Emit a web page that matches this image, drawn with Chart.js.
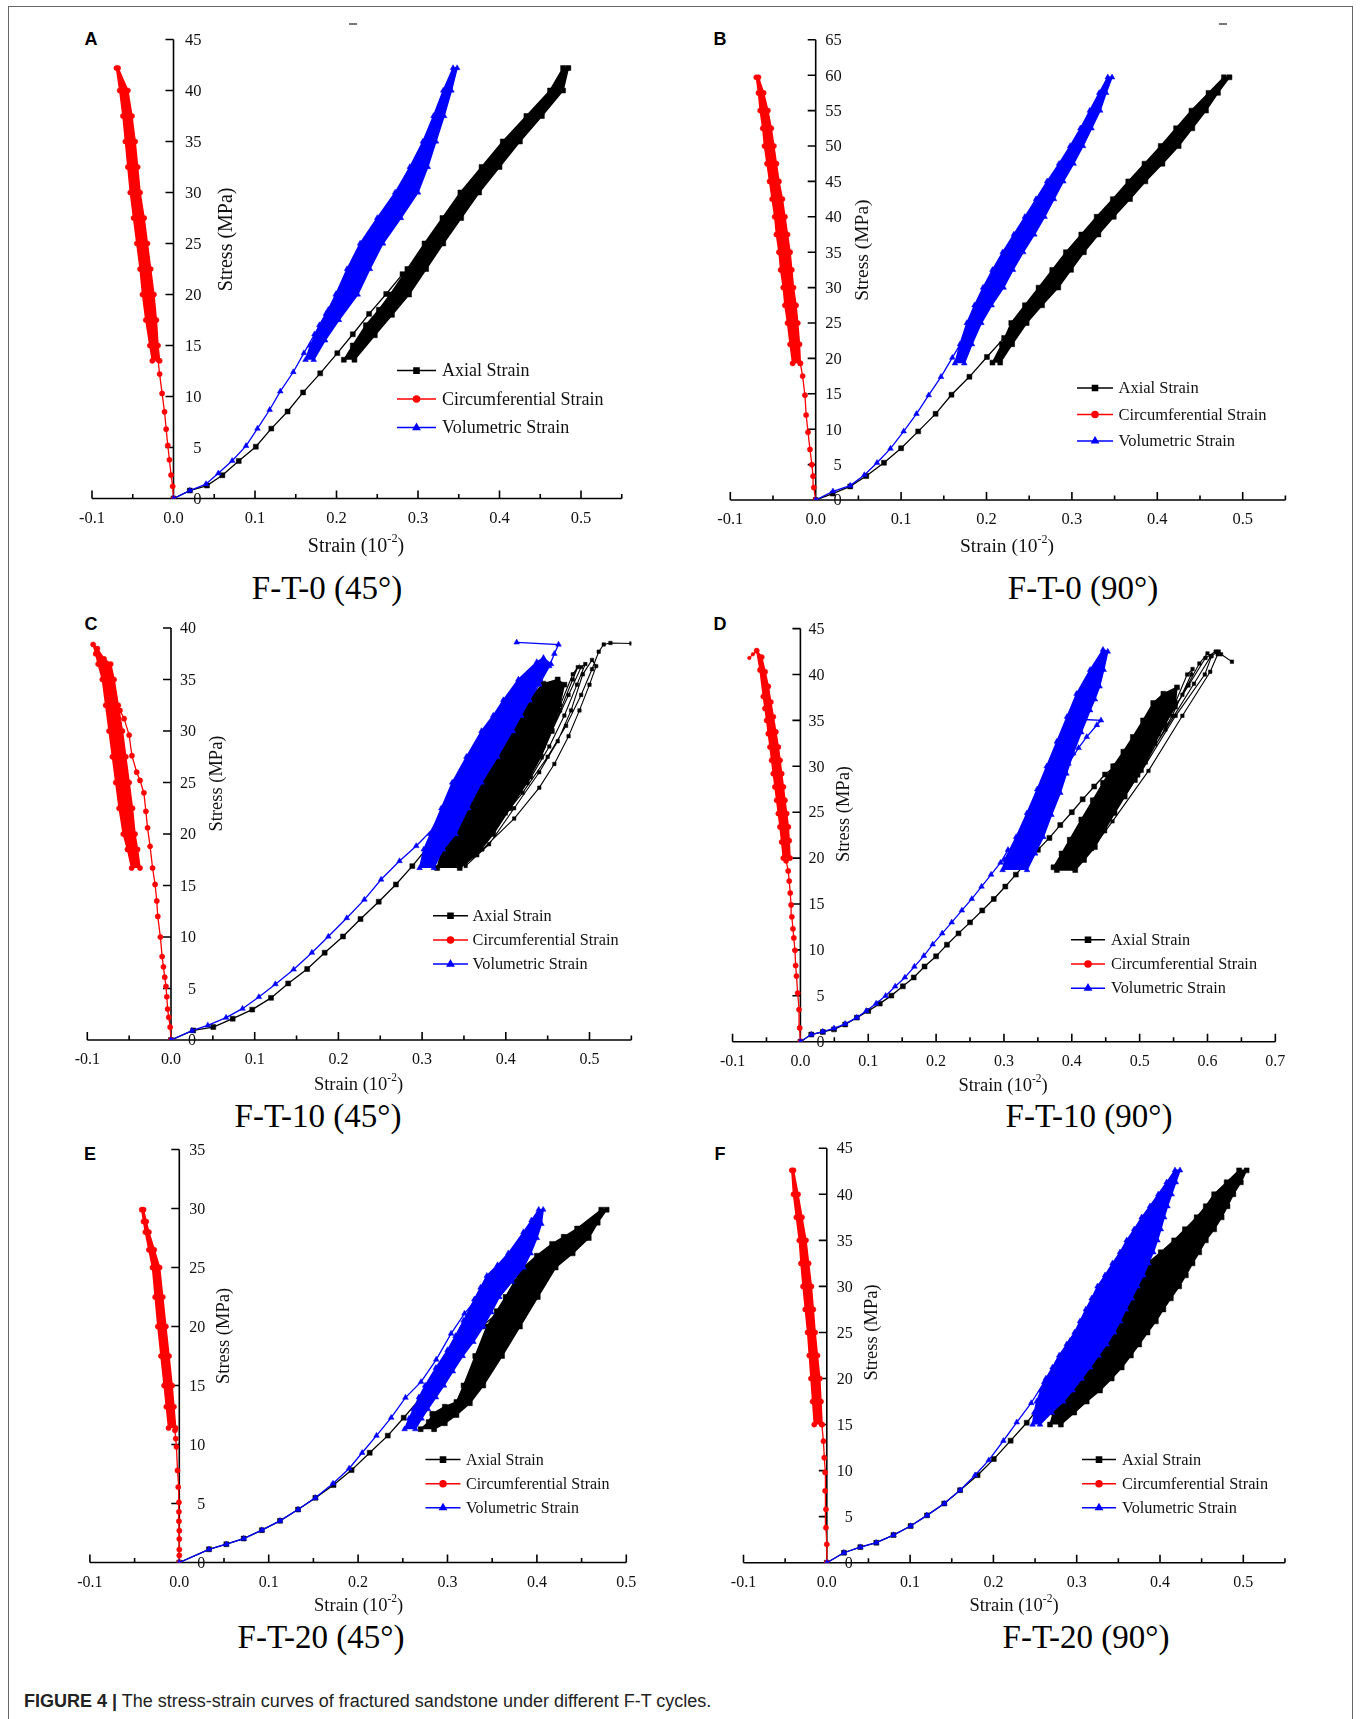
<!DOCTYPE html>
<html lang="en">
<head>
<meta charset="UTF-8">
<title>Stress-strain curves of fractured sandstone</title>
<script src="https://cdn.jsdelivr.net/npm/chart.js"></script>
<style>
  body { margin: 0; width: 1363px; height: 1719px; background: #fff; position: relative; overflow: hidden; }
  .frame { position: absolute; left: 8px; top: 6px; width: 1345px; height: 1780px; border: 1.5px solid #666; box-sizing: border-box; }
  canvas { position: absolute; }
  .letter { position: absolute; font: bold 18px "Liberation Sans", Arial, sans-serif; transform: translate(-50%, -50%); }
  .ptitle { position: absolute; font: 33px "Liberation Serif", "Times New Roman", serif; transform: translate(-50%, -50%); white-space: nowrap; }
  .dash { position: absolute; width: 8px; height: 2px; background: #777; }
  .caption { position: absolute; left: 24px; top: 1691px; font: 18px "Liberation Sans", Arial, sans-serif; color: #222; white-space: nowrap; }
</style>
</head>
<body>
<div class="frame"></div>
<div class="dash" style="left:349px; top:23px"></div>
<div class="dash" style="left:1219px; top:23px"></div>

<div class="letter" style="left:91px; top:39px">A</div>
<div class="letter" style="left:720px; top:39px">B</div>
<div class="letter" style="left:91px; top:624px">C</div>
<div class="letter" style="left:720px; top:624px">D</div>
<div class="letter" style="left:90px; top:1154px">E</div>
<div class="letter" style="left:720px; top:1154px">F</div>

<div class="ptitle" style="left:327px; top:588px">F-T-0 (45°)</div>
<div class="ptitle" style="left:1083px; top:588px">F-T-0 (90°)</div>
<div class="ptitle" style="left:318px; top:1116px">F-T-10 (45°)</div>
<div class="ptitle" style="left:1089px; top:1116px">F-T-10 (90°)</div>
<div class="ptitle" style="left:321px; top:1637px">F-T-20 (45°)</div>
<div class="ptitle" style="left:1086px; top:1637px">F-T-20 (90°)</div>

<div class="caption"><b>FIGURE 4 |</b> The stress-strain curves of fractured sandstone under different F-T cycles.</div>

<canvas id="cA"></canvas>
<canvas id="cB"></canvas>
<canvas id="cC"></canvas>
<canvas id="cD"></canvas>
<canvas id="cE"></canvas>
<canvas id="cF"></canvas>

<script>
// tick values and labels
const xTicks5 = [-0.1, 0, 0.1, 0.2, 0.3, 0.4, 0.5];
const xLabels5 = ['-0.1', '0.0', '0.1', '0.2', '0.3', '0.4', '0.5'];
const xTicks7 = [-0.1, 0, 0.1, 0.2, 0.3, 0.4, 0.5, 0.6, 0.7];
const xLabels7 = ['-0.1', '0.0', '0.1', '0.2', '0.3', '0.4', '0.5', '0.6', '0.7'];
const yTicks35 = [0, 5, 10, 15, 20, 25, 30, 35];
const yTicks40 = [0, 5, 10, 15, 20, 25, 30, 35, 40];
const yTicks45 = [0, 5, 10, 15, 20, 25, 30, 35, 40, 45];
const yTicks65 = [0, 5, 10, 15, 20, 25, 30, 35, 40, 45, 50, 55, 60, 65];
const legendLabels = ['Axial Strain', 'Circumferential Strain', 'Volumetric Strain'];

// ---- A: F-T-0 (45°)  [strain (10^-2), stress MPa]
const aAxialRamp = [[0,0],[0.02,0.78],[0.041,1.27],[0.060,2.28],[0.080,3.67],[0.101,5.08],[0.120,6.85],[0.140,8.53],[0.159,10.4],[0.180,12.27],[0.201,14.25],[0.220,16.1],[0.240,18.1],[0.261,20.05],[0.281,22.0]];
const aAxialBand = [[0.209,13.6],[0.220,15],[0.236,17],[0.252,18.5],[0.266,20],[0.287,22.5],[0.308,25],[0.330,27.5],[0.352,30],[0.378,32.5],[0.404,35],[0.433,37.5],[0.462,40],[0.478,42.2],[0.4845,42.2],[0.478,40],[0.452,37.5],[0.425,35],[0.400,32.5],[0.375,30],[0.353,27.5],[0.331,25],[0.310,22.5],[0.289,20],[0.268,18],[0.247,16],[0.222,13.6]];
const aCircRamp = [[0,0],[-0.001,1.2],[-0.003,2.3],[-0.005,3.8],[-0.007,5.2],[-0.009,6.8],[-0.011,8.5],[-0.014,10.3],[-0.017,12.2],[-0.019,13.6]];
const aCircBand = [[-0.026,13.5],[-0.029,15],[-0.034,17.5],[-0.038,20],[-0.041,22.5],[-0.045,25],[-0.049,27.5],[-0.053,30],[-0.056,32.5],[-0.059,35],[-0.062,37.5],[-0.066,40],[-0.070,42.2],[-0.068,42.2],[-0.056,40],[-0.051,37.5],[-0.047,35],[-0.044,32.5],[-0.041,30],[-0.036,27.5],[-0.032,25],[-0.028,22.5],[-0.024,20],[-0.021,17.5],[-0.019,15],[-0.017,13.5]];
const aVolRamp = [[0,0],[0.02,0.78],[0.04,1.42],[0.055,2.47],[0.072,3.7],[0.089,5.16],[0.103,6.85],[0.118,8.7],[0.131,10.5],[0.147,12.4],[0.160,14.25],[0.173,16.1],[0.187,18.1],[0.200,20.05],[0.214,22.2]];
const aVolBand = [[0.162,13.6],[0.168,15],[0.179,17],[0.190,18.5],[0.199,20],[0.213,22.5],[0.229,25],[0.250,27.5],[0.272,30],[0.290,32.5],[0.306,35],[0.319,37.5],[0.331,40],[0.343,42.2],[0.348,42.2],[0.341,40],[0.332,37.5],[0.322,35],[0.312,32.5],[0.300,30],[0.279,27.5],[0.257,25],[0.241,22.5],[0.226,20],[0.203,17.5],[0.186,15.5],[0.172,13.6]];

// ---- B: F-T-0 (90°)
const bAxialRamp = [[0,0],[0.02,0.9],[0.0404,1.92],[0.0592,3.38],[0.0799,5.26],[0.100,7.31],[0.120,9.69],[0.1404,12.17],[0.159,14.87],[0.180,17.4],[0.2005,20.2],[0.2207,22.9],[0.241,25.8],[0.260,28.6],[0.280,31.4]];
const bAxialBand = [[0.207,19.4],[0.218,22],[0.229,25],[0.245,27.5],[0.261,30],[0.277,32.5],[0.293,35],[0.311,37.5],[0.329,40],[0.348,42.5],[0.366,45],[0.385,47.5],[0.404,50],[0.422,52.5],[0.440,55],[0.460,57.5],[0.478,59.7],[0.4845,59.7],[0.471,57.5],[0.457,55],[0.441,52.5],[0.425,50],[0.406,47.5],[0.386,45],[0.368,42.5],[0.349,40],[0.331,37.5],[0.314,35],[0.299,32.5],[0.284,30],[0.265,27.5],[0.247,25],[0.230,22],[0.216,19.4]];
const bCircRamp = [[0,0],[-0.0022,1.76],[-0.0031,3.37],[-0.0045,4.99],[-0.0067,7.15],[-0.009,9.58],[-0.0112,12.0],[-0.0126,14.8],[-0.0153,17.5],[-0.018,19.3]];
const bCircBand = [[-0.027,19.3],[-0.030,22],[-0.033,25],[-0.036,27.5],[-0.038,30],[-0.041,32.5],[-0.043,35],[-0.046,37.5],[-0.048,40],[-0.051,42.5],[-0.054,45],[-0.057,47.5],[-0.060,50],[-0.062,52.5],[-0.065,55],[-0.067,57.5],[-0.0695,59.7],[-0.067,59.7],[-0.061,57.5],[-0.056,55],[-0.052,52.5],[-0.049,50],[-0.046,47.5],[-0.043,45],[-0.039,42.5],[-0.036,40],[-0.033,37.5],[-0.030,35],[-0.028,32.5],[-0.026,30],[-0.023,27.5],[-0.021,25],[-0.019,22],[-0.018,19.3]];
const bVolRamp = [[0,0],[0.0202,1.22],[0.0404,2.03],[0.057,3.54],[0.0718,5.26],[0.0875,7.26],[0.103,9.69],[0.118,12.17],[0.1323,14.8],[0.1467,17.4],[0.160,20.1],[0.1736,22.9],[0.186,25.5],[0.1996,28.5],[0.213,31.4],[0.226,34.4]];
const bVolBand = [[0.163,19.3],[0.169,22],[0.177,25],[0.186,27.5],[0.196,30],[0.207,32.5],[0.219,35],[0.232,37.5],[0.245,40],[0.258,42.5],[0.271,45],[0.285,47.5],[0.298,50],[0.310,52.5],[0.321,55],[0.332,57.5],[0.342,59.7],[0.347,59.7],[0.340,57.5],[0.333,55],[0.323,52.5],[0.313,50],[0.302,47.5],[0.290,45],[0.279,42.5],[0.268,40],[0.256,37.5],[0.243,35],[0.231,32.5],[0.220,30],[0.206,27.5],[0.194,25],[0.183,22],[0.174,19.3]];

// ---- C: F-T-10 (45°)
const cAxialRamp = [[0,0],[0.0265,0.93],[0.0505,1.26],[0.0737,2.07],[0.097,2.95],[0.1195,4.09],[0.140,5.49],[0.1627,6.89],[0.1836,8.48],[0.2055,10.05],[0.2264,11.74],[0.2482,13.43],[0.2687,15.1],[0.2883,16.88],[0.308,18.84],[0.322,20.2]];
const cAxialBand = [[0.318,16.7],[0.324,18.5],[0.333,20],[0.350,22.5],[0.370,25],[0.388,27.5],[0.405,30],[0.420,32],[0.432,33.5],[0.445,34.6],[0.462,35],[0.470,34.5],[0.463,32],[0.455,30],[0.442,27.5],[0.425,25],[0.405,22.5],[0.385,20],[0.365,18],[0.345,16.7]];
const cAxialLoops = [[0.345,16.8],[0.372,18.5],[0.41,21.5],[0.44,24.5],[0.458,26.8],[0.475,29.5],[0.488,32],[0.50,34.5],[0.508,36.3],[0.503,36.9],[0.492,35.5],[0.478,32],[0.462,29],[0.44,26],[0.41,22.5],[0.38,19],[0.352,16.9],[0.36,18.5],[0.40,22],[0.43,25.5],[0.452,28.5],[0.47,31.5],[0.485,34.5],[0.495,36.5],[0.49,36.2],[0.475,33.5],[0.455,30],[0.432,27],[0.40,23],[0.37,19.5],[0.345,17],[0.39,21],[0.42,25],[0.445,28.5],[0.465,32],[0.48,35],[0.486,36.2],[0.48,35.5],[0.465,32.5],[0.442,29],[0.415,25.5],[0.385,21.5],[0.35,17.5],[0.38,20],[0.42,24],[0.45,27.5],[0.472,30.5],[0.49,33.5],[0.503,36],[0.511,37.7],[0.517,38.4],[0.525,38.55],[0.55,38.5]];
const cCircRamp = [[0,0],[-0.001,1.25],[-0.0027,2.2],[-0.004,3.0],[-0.005,4.2],[-0.006,5.2],[-0.0075,6.1],[-0.009,7.1],[-0.0106,8.1],[-0.0127,10.0],[-0.0158,12.0],[-0.017,13.5],[-0.019,15.1],[-0.022,16.7],[-0.025,18.8],[-0.028,20.6],[-0.030,22.2],[-0.0324,24.0],[-0.037,25.2],[-0.041,26.0],[-0.0467,27.6],[-0.050,29.6],[-0.056,31.2],[-0.061,32.0]];
const cCircBand = [[-0.047,16.7],[-0.052,18.5],[-0.057,20],[-0.062,22.5],[-0.066,25],[-0.070,27.5],[-0.074,30],[-0.078,32.5],[-0.082,35],[-0.087,36.5],[-0.090,37.5],[-0.093,38.4],[-0.088,38.0],[-0.080,37.0],[-0.072,36.5],[-0.068,35],[-0.063,32.5],[-0.058,30],[-0.054,27.5],[-0.050,25],[-0.046,22.5],[-0.043,20],[-0.040,18.5],[-0.037,16.7]];
const cVolRamp = [[0,0],[0.025,0.9],[0.044,1.42],[0.0658,2.17],[0.0854,3.04],[0.105,4.18],[0.1247,5.42],[0.1465,6.85],[0.1683,8.48],[0.188,10.05],[0.21,11.84],[0.231,13.63],[0.251,15.58],[0.273,17.37],[0.293,18.84],[0.3145,20.63],[0.3275,21.45]];
const cVolBand = [[0.297,16.7],[0.302,18.5],[0.310,20],[0.323,22.5],[0.336,25],[0.353,27.5],[0.371,30],[0.385,31.5],[0.397,33],[0.415,35],[0.437,36.7],[0.445,37.1],[0.454,36.5],[0.441,35],[0.428,33],[0.418,31.5],[0.408,30],[0.390,27.5],[0.371,25],[0.355,22.5],[0.340,20],[0.325,18.5],[0.314,16.7]];
const cVolFinal = [[0.408,30],[0.418,31.5],[0.428,33],[0.44,34.5],[0.452,36.3],[0.458,37.5],[0.463,38.4],[0.413,38.6]];

// ---- D: F-T-10 (90°)
const dAxialRamp = [[0,0],[0.016,0.78],[0.033,1.06],[0.0495,1.34],[0.066,1.88],[0.0832,2.62],[0.100,3.35],[0.117,4.15],[0.134,5.02],[0.151,6.03],[0.167,7.0],[0.183,8.19],[0.200,9.3],[0.216,10.57],[0.233,11.8],[0.250,13.0],[0.268,14.3],[0.285,15.55],[0.302,16.9],[0.3175,18.2],[0.333,19.5],[0.350,20.9],[0.367,22.2],[0.383,23.6],[0.400,25.0],[0.416,26.4],[0.433,27.8],[0.449,29.1],[0.464,30.0]];
const dAxialBand = [[0.373,19.0],[0.385,20.5],[0.397,22.0],[0.414,24.2],[0.431,26.3],[0.446,28.2],[0.461,30.0],[0.476,31.6],[0.490,33.2],[0.505,35],[0.520,36.9],[0.535,37.9],[0.555,38.6],[0.552,36.5],[0.537,34.5],[0.522,32.5],[0.508,30.5],[0.493,28.5],[0.478,26.7],[0.463,24.9],[0.448,23],[0.434,21.2],[0.418,19.8],[0.405,18.7],[0.378,18.7]];
const dAxialLoops = [[0.412,20.6],[0.465,26.5],[0.518,32.5],[0.563,37.8],[0.588,41.2],[0.60,42.3],[0.606,42.0],[0.596,40.0],[0.553,35.5],[0.503,29.5],[0.455,24.5],[0.422,20.9],[0.445,23.0],[0.508,31.0],[0.553,37.0],[0.570,40.0],[0.578,40.6],[0.576,40.0],[0.548,35.5],[0.498,29.0],[0.43,21.5],[0.475,27.5],[0.528,33.5],[0.572,38.8],[0.597,41.8],[0.612,42.5],[0.615,42.2],[0.604,40.3],[0.563,35.5],[0.513,29.5],[0.46,24.0],[0.43,21.0],[0.485,28],[0.538,34],[0.58,39],[0.605,42],[0.6165,42.5],[0.62,42.2],[0.636,41.4]];
const dCircRamp = [[0,0],[-0.001,1.5],[-0.002,3.5],[-0.004,5.3],[-0.0058,7.15],[-0.007,8.3],[-0.008,9.95],[-0.0097,11.3],[-0.011,12.3],[-0.0126,13.6],[-0.0137,14.9],[-0.015,16.2],[-0.0165,17.5],[-0.018,18.6],[-0.021,19.7]];
const dCircBand = [[-0.0252,20.0],[-0.0276,21.75],[-0.0301,23.4],[-0.0325,24.85],[-0.035,26.3],[-0.0375,27.75],[-0.0399,29.2],[-0.0424,30.65],[-0.0448,32.1],[-0.0473,33.55],[-0.0497,35.0],[-0.0522,36.3],[-0.0546,37.6],[-0.0595,40.5],[-0.0644,42.6],[-0.057,41.9],[-0.052,40.3],[-0.0473,38.7],[-0.0436,37.0],[-0.0399,35.4],[-0.0362,33.75],[-0.0325,32.1],[-0.030,30.65],[-0.0276,29.2],[-0.0251,27.75],[-0.0227,26.3],[-0.0202,24.85],[-0.0178,23.4],[-0.0165,21.9],[-0.0153,20.0]];
const dCircTail = [[-0.0644,42.6],[-0.070,42.2],[-0.0753,41.8]];
const dVolRamp = [[0,0],[0.016,0.78],[0.033,1.1],[0.0495,1.45],[0.066,1.95],[0.083,2.62],[0.097,3.35],[0.1116,4.15],[0.1256,5.0],[0.1397,6.02],[0.154,7.0],[0.168,8.18],[0.182,9.35],[0.195,10.6],[0.209,11.8],[0.223,13.0],[0.238,14.3],[0.2526,15.55],[0.267,16.9],[0.281,18.2],[0.295,19.5],[0.306,20.9]];
const dVolBand = [[0.298,18.7],[0.301,19.8],[0.318,22.3],[0.334,24.9],[0.349,27.5],[0.363,30.0],[0.378,32.7],[0.393,35.4],[0.407,37.9],[0.427,40.5],[0.446,42.7],[0.453,42.5],[0.447,40.5],[0.441,38.7],[0.434,37.3],[0.427,36.1],[0.414,33.7],[0.402,31.4],[0.392,29.2],[0.383,27.1],[0.370,24.7],[0.358,22.3],[0.346,20.5],[0.334,18.7]];
const dVolSpike = [[0.385,29.0],[0.395,30.3],[0.41,32.0],[0.422,33.2],[0.437,34.5],[0.443,35.0],[0.417,35.1]];

// ---- E: F-T-20 (45°)
const eAxialRamp = [[0,0],[0.0332,1.12],[0.0526,1.55],[0.072,2.03],[0.0923,2.74],[0.1126,3.53],[0.1328,4.49],[0.1522,5.48],[0.1725,6.56],[0.1927,7.83],[0.213,9.3],[0.2332,10.75],[0.251,12.27],[0.2704,13.97],[0.29,15.8],[0.315,18.2],[0.338,20.0],[0.356,21.1]];
const eAxialBand = [[0.270,11.3],[0.279,11.9],[0.283,12.6],[0.297,13.2],[0.310,13.6],[0.318,15],[0.331,17.5],[0.344,20],[0.355,21.3],[0.365,22.5],[0.375,23.8],[0.385,25],[0.400,26],[0.417,27],[0.430,27.6],[0.445,28.3],[0.472,29.9],[0.478,29.9],[0.468,28.8],[0.458,27.5],[0.440,26.2],[0.421,25],[0.401,22.5],[0.381,20],[0.361,17.5],[0.340,15],[0.325,13.5],[0.310,12.5],[0.297,11.8],[0.285,11.3]];
const eCircRamp = [[0,0],[0,0.6],[0,1.1],[0,2.0],[0,2.7],[-0.0004,3.5],[-0.0004,4.3],[-0.0004,5.1],[-0.0012,6.4],[-0.002,7.8],[-0.0032,9.8],[-0.004,10.5],[-0.0049,11.2]];
const eCircBand = [[-0.012,11.4],[-0.0145,13.2],[-0.017,15],[-0.0205,17.5],[-0.024,20],[-0.027,22.5],[-0.030,25],[-0.034,26.5],[-0.038,28],[-0.040,28.9],[-0.042,29.9],[-0.040,29.9],[-0.037,28.9],[-0.034,28],[-0.028,26.5],[-0.022,25],[-0.0185,22.5],[-0.015,20],[-0.0115,17.5],[-0.008,15],[-0.006,13.2],[-0.004,11.4]];
const eVolRamp = [[0,0],[0.0332,1.12],[0.0526,1.55],[0.072,2.03],[0.0923,2.74],[0.1126,3.53],[0.1328,4.49],[0.1522,5.48],[0.172,6.7],[0.19,7.97],[0.2045,9.3],[0.2206,10.75],[0.237,12.27],[0.253,13.97],[0.2704,15.3],[0.2874,17.2],[0.304,19.4],[0.319,21.1],[0.332,22.3]];
const eVolBand = [[0.252,11.3],[0.257,12.2],[0.262,13],[0.268,14],[0.275,15],[0.287,16.5],[0.300,18],[0.309,19.2],[0.318,20.5],[0.330,22.3],[0.337,23.3],[0.344,24.3],[0.356,25.2],[0.368,26.2],[0.385,28],[0.394,29],[0.402,29.9],[0.407,29.9],[0.405,28.7],[0.400,27.5],[0.393,26.2],[0.385,25],[0.372,23.8],[0.358,22.5],[0.349,21.2],[0.340,20],[0.329,18.7],[0.317,17.5],[0.306,16.2],[0.296,15],[0.287,14],[0.278,13],[0.271,12.2],[0.264,11.3]];

// ---- F: F-T-20 (90°)
const fAxialRamp = [[0,0],[0.0205,1.08],[0.0402,1.69],[0.0594,2.17],[0.080,3.0],[0.1006,3.98],[0.1203,5.14],[0.141,6.42],[0.160,7.87],[0.181,9.5],[0.2005,11.25],[0.2207,13.25],[0.240,15.2],[0.2596,17.4]];
const fAxialBand = [[0.268,15.0],[0.272,16.3],[0.275,17.5],[0.289,18.8],[0.302,20],[0.311,21.2],[0.320,22.5],[0.327,23.7],[0.334,25],[0.343,26.2],[0.353,27.5],[0.358,28.7],[0.364,30],[0.375,31.2],[0.385,32.5],[0.401,33.7],[0.417,35],[0.430,36.2],[0.444,37.5],[0.455,38.7],[0.465,40],[0.480,41.3],[0.495,42.6],[0.504,42.6],[0.497,41.3],[0.488,40],[0.481,38.7],[0.474,37.5],[0.465,36.2],[0.455,35],[0.447,33.7],[0.439,32.5],[0.431,31.2],[0.423,30],[0.413,28.7],[0.404,27.5],[0.395,26.2],[0.385,25],[0.375,23.7],[0.365,22.5],[0.354,21.2],[0.342,20],[0.328,18.7],[0.312,17.5],[0.297,16.3],[0.281,15.0]];
const fCircRamp = [[0,0],[0,2],[-0.001,3.8],[-0.001,5.8],[-0.002,7.8],[-0.002,9.8],[-0.003,11.4],[-0.004,13.2],[-0.006,15.0]];
const fCircBand = [[-0.015,15],[-0.017,17.5],[-0.019,20],[-0.021,22.5],[-0.023,25],[-0.0258,27.5],[-0.0285,30],[-0.031,32.5],[-0.033,35],[-0.0365,37.5],[-0.040,40],[-0.042,42.6],[-0.040,42.6],[-0.0345,40],[-0.0298,37.5],[-0.025,35],[-0.0218,32.5],[-0.0185,30],[-0.0162,27.5],[-0.014,25],[-0.0112,22.5],[-0.0084,20],[-0.007,17.5],[-0.0056,15]];
const fVolRamp = [[0,0],[0.0205,1.08],[0.0402,1.69],[0.0594,2.17],[0.080,3.0],[0.1006,3.98],[0.1203,5.14],[0.141,6.42],[0.160,7.87],[0.178,9.5],[0.1945,11.13],[0.212,13.24],[0.228,15.24],[0.2454,17.34],[0.261,19.6],[0.277,21.9],[0.292,24.1],[0.309,26.7]];
const fVolBand = [[0.247,15],[0.249,16.3],[0.252,17.5],[0.257,18.7],[0.263,20],[0.271,21.2],[0.279,22.5],[0.288,23.7],[0.2975,25],[0.304,26.2],[0.311,27.5],[0.318,28.7],[0.325,30],[0.334,31.2],[0.343,32.5],[0.352,33.7],[0.360,35],[0.369,36.2],[0.378,37.5],[0.388,38.7],[0.398,40],[0.408,41.3],[0.418,42.6],[0.424,42.6],[0.419,41.3],[0.414,40],[0.409,38.7],[0.405,37.5],[0.401,36.2],[0.397,35],[0.392,33.7],[0.386,32.5],[0.380,31.2],[0.373,30],[0.366,28.7],[0.359,27.5],[0.352,26.2],[0.345,25],[0.336,23.7],[0.326,22.5],[0.316,21.2],[0.306,20],[0.295,18.7],[0.284,17.5],[0.270,16.3],[0.256,15]];

const BLACK = '#000000', RED = '#ff0000', BLUE = '#0000ff';

// series helper: kind = ramp | band | loop
function series(data, color, style, kind) {
  const r = style === 'rect' ? 3.5 : (style === 'circle' ? 2.6 : 3.3);
  return {
    data: data,
    showLine: true,
    fill: kind === 'band' ? 'shape' : false,
    borderColor: color,
    backgroundColor: color,
    pointBackgroundColor: color,
    pointBorderColor: color,
    pointBorderWidth: 0.5,
    borderWidth: kind === 'band' ? 1.5 : (kind === 'loop' ? 1.1 : 1.3),
    pointStyle: style,
    pointRadius: kind === 'loop' ? r * 0.7 : r,
    tension: 0
  };
}

// panel layout: x0/y0 = pixel of the origin, kx = px per strain unit, ky = px per MPa
const panels = [
  { id: 'cA', x0: 173.5, kx: 815, y0: 498.5, ky: 10.2, xr: [-0.1, 0.55], yr: [0, 45], xt: xTicks5, xl: xLabels5, yt: yTicks45,
    tickFont: 16.5, titleFont: 20, labelDx: 28, stressDx: 53.5, stressY: 25.4, strainX: 0.224, strainDy: 48,
    legend: { x: 397, len: 39, tx: 442, y: 370.6, dy: 28.5, font: 18 },
    sets: [series(aVolRamp, BLUE, 'triangle', 'ramp'), series(aVolBand, BLUE, 'triangle', 'band'),
           series(aCircRamp, RED, 'circle', 'ramp'), series(aCircBand, RED, 'circle', 'band'),
           series(aAxialRamp, BLACK, 'rect', 'ramp'), series(aAxialBand, BLACK, 'rect', 'band')] },
  { id: 'cB', x0: 815.7, kx: 854, y0: 500, ky: 7.08, xr: [-0.1, 0.55], yr: [0, 65], xt: xTicks5, xl: xLabels5, yt: yTicks65,
    tickFont: 16.5, titleFont: 19.5, labelDx: 26, stressDx: 47.3, stressY: 35.3, strainX: 0.224, strainDy: 47,
    legend: { x: 1077, len: 36, tx: 1118.5, y: 388, dy: 26.5, font: 16.5 },
    sets: [series(bVolRamp, BLUE, 'triangle', 'ramp'), series(bVolBand, BLUE, 'triangle', 'band'),
           series(bCircRamp, RED, 'circle', 'ramp'), series(bCircBand, RED, 'circle', 'band'),
           series(bAxialRamp, BLACK, 'rect', 'ramp'), series(bAxialBand, BLACK, 'rect', 'band')] },
  { id: 'cC', x0: 171, kx: 837, y0: 1040, ky: 10.3, xr: [-0.1, 0.55], yr: [0, 40], xt: xTicks5, xl: xLabels5, yt: yTicks40,
    tickFont: 16, titleFont: 18.5, labelDx: 25, stressDx: 46, stressY: 24.9, strainX: 0.224, strainDy: 45,
    legend: { x: 433, len: 35, tx: 472.6, y: 915.7, dy: 24.2, font: 16.3 },
    sets: [series(cVolRamp, BLUE, 'triangle', 'ramp'), series(cVolBand, BLUE, 'triangle', 'band'), series(cVolFinal, BLUE, 'triangle', 'ramp'),
           series(cCircRamp, RED, 'circle', 'ramp'), series(cCircBand, RED, 'circle', 'band'),
           series(cAxialLoops, BLACK, 'rect', 'loop'), series(cAxialRamp, BLACK, 'rect', 'ramp'), series(cAxialBand, BLACK, 'rect', 'band')] },
  { id: 'cD', x0: 800.4, kx: 678.5, y0: 1041.7, ky: 9.18, xr: [-0.1, 0.7], yr: [0, 45], xt: xTicks7, xl: xLabels7, yt: yTicks45,
    tickFont: 16, titleFont: 18.5, labelDx: 24, stressDx: 43.6, stressY: 24.8, strainX: 0.2986, strainDy: 44,
    legend: { x: 1071, len: 34, tx: 1111, y: 939.8, dy: 24.2, font: 16.3 },
    sets: [series(dVolRamp, BLUE, 'triangle', 'ramp'), series(dVolBand, BLUE, 'triangle', 'band'), series(dVolSpike, BLUE, 'triangle', 'ramp'),
           series(dCircRamp, RED, 'circle', 'ramp'), series(dCircBand, RED, 'circle', 'band'), series(dCircTail, RED, 'circle', 'loop'),
           series(dAxialLoops, BLACK, 'rect', 'loop'), series(dAxialRamp, BLACK, 'rect', 'ramp'), series(dAxialBand, BLACK, 'rect', 'band')] },
  { id: 'cE', x0: 179.3, kx: 894, y0: 1562.5, ky: 11.8, xr: [-0.1, 0.5], yr: [0, 35], xt: xTicks5, xl: xLabels5, yt: yTicks35,
    tickFont: 16, titleFont: 18.5, labelDx: 26, stressDx: 44.4, stressY: 19.2, strainX: 0.2006, strainDy: 44,
    legend: { x: 425.5, len: 35, tx: 466, y: 1459.6, dy: 24.1, font: 16 },
    sets: [series(eVolRamp, BLUE, 'triangle', 'ramp'), series(eVolBand, BLUE, 'triangle', 'band'),
           series(eCircRamp, RED, 'circle', 'ramp'), series(eCircBand, RED, 'circle', 'band'),
           series(eAxialRamp, BLACK, 'rect', 'ramp'), series(eAxialBand, BLACK, 'rect', 'band')] },
  { id: 'cF', x0: 826.8, kx: 833, y0: 1562.7, ky: 9.21, xr: [-0.1, 0.55], yr: [0, 45], xt: xTicks5, xl: xLabels5, yt: yTicks45,
    tickFont: 16, titleFont: 18.5, labelDx: 26, stressDx: 45.2, stressY: 25.0, strainX: 0.2247, strainDy: 43,
    legend: { x: 1082, len: 34, tx: 1122, y: 1459.6, dy: 24.1, font: 16.3 },
    sets: [series(fVolRamp, BLUE, 'triangle', 'ramp'), series(fVolBand, BLUE, 'triangle', 'band'),
           series(fCircRamp, RED, 'circle', 'ramp'), series(fCircBand, RED, 'circle', 'band'),
           series(fAxialRamp, BLACK, 'rect', 'ramp'), series(fAxialBand, BLACK, 'rect', 'band')] }
];

const SERIF = '"Liberation Serif", "Times New Roman", serif';

// axes crossing at zero, drawn from the chart's own scales
const crossAxes = {
  id: 'crossAxes',
  beforeDatasetsDraw(chart, args, o) {
    const ctx = chart.ctx;
    const xs = chart.scales.x, ys = chart.scales.y;
    const x0 = xs.getPixelForValue(0), y0 = ys.getPixelForValue(0);
    ctx.save();
    ctx.strokeStyle = '#000';
    ctx.lineWidth = 1.6;
    ctx.beginPath();
    ctx.moveTo(xs.left, y0); ctx.lineTo(xs.right, y0);
    ctx.moveTo(x0, ys.bottom + 0.8); ctx.lineTo(x0, ys.top);
    o.xt.forEach(v => {
      const px = xs.getPixelForValue(v);
      ctx.moveTo(px, y0); ctx.lineTo(px, y0 - 8);
    });
    for (let i = 0; i < o.xt.length; i++) {
      const v = o.xt[i] + 0.05;
      if (v > xs.max + 1e-9) break;
      const px = xs.getPixelForValue(v);
      ctx.moveTo(px, y0); ctx.lineTo(px, y0 - 4.5);
    }
    o.yt.forEach(v => {
      const py = ys.getPixelForValue(v);
      ctx.moveTo(x0, py); ctx.lineTo(x0 - 8, py);
    });
    ctx.stroke();

    ctx.fillStyle = '#111';
    ctx.font = o.tickFont + 'px ' + SERIF;
    ctx.textBaseline = 'middle';
    ctx.textAlign = 'center';
    o.xt.forEach((v, i) => ctx.fillText(o.xl[i], xs.getPixelForValue(v), y0 + 20));
    ctx.textAlign = 'right';
    o.yt.forEach(v => ctx.fillText(String(v), x0 + o.labelDx, ys.getPixelForValue(v) + 1));

    // axis titles
    ctx.font = o.titleFont + 'px ' + SERIF;
    ctx.save();
    ctx.translate(x0 + o.stressDx, ys.getPixelForValue(o.stressY));
    ctx.rotate(-Math.PI / 2);
    ctx.textAlign = 'center';
    ctx.fillText('Stress (MPa)', 0, 0);
    ctx.restore();

    const f = o.titleFont, sf = f * 0.62;
    const p1 = 'Strain (10', p2 = '-2', p3 = ')';
    ctx.font = f + 'px ' + SERIF;
    const w1 = ctx.measureText(p1).width, w3 = ctx.measureText(p3).width;
    ctx.font = sf + 'px ' + SERIF;
    const w2 = ctx.measureText(p2).width;
    const sx = xs.getPixelForValue(o.strainX) - (w1 + w2 + w3) / 2;
    const sy = y0 + o.strainDy;
    ctx.textAlign = 'left';
    ctx.font = f + 'px ' + SERIF;
    ctx.fillText(p1, sx, sy);
    ctx.font = sf + 'px ' + SERIF;
    ctx.fillText(p2, sx + w1, sy - f * 0.38);
    ctx.font = f + 'px ' + SERIF;
    ctx.fillText(p3, sx + w1 + w2, sy);
    ctx.restore();
  },
  afterDatasetsDraw(chart, args, o) {
    const ctx = chart.ctx, L = o.legend;
    const colors = [BLACK, RED, BLUE], styles = ['rect', 'circle', 'triangle'];
    ctx.save();
    ctx.font = L.font + 'px ' + SERIF;
    ctx.textBaseline = 'middle';
    ctx.textAlign = 'left';
    legendLabels.forEach((label, i) => {
      const y = L.y + i * L.dy - o.oy;
      const x1 = L.x - o.ox, x2 = x1 + L.len, xm = (x1 + x2) / 2;
      ctx.strokeStyle = colors[i];
      ctx.fillStyle = colors[i];
      ctx.lineWidth = 1.5;
      ctx.beginPath(); ctx.moveTo(x1, y); ctx.lineTo(x2, y); ctx.stroke();
      Chart.helpers.drawPoint(ctx, { pointStyle: styles[i], radius: styles[i] === 'circle' ? 3 : 3.6, borderWidth: 0.5 }, xm, y);
      ctx.fill();
      ctx.fillStyle = '#111';
      ctx.fillText(label, L.tx - o.ox, y + 1);
    });
    ctx.restore();
  }
};

panels.forEach(p => {
  const left = p.x0 + p.xr[0] * p.kx, right = p.x0 + p.xr[1] * p.kx;
  const top = p.y0 - p.yr[1] * p.ky, bottom = p.y0;
  const ox = Math.floor(left - 45), oy = Math.floor(top - 25);
  const w = Math.ceil(right + 45) - ox, h = Math.ceil(bottom + 62) - oy;
  const cv = document.getElementById(p.id);
  cv.width = w; cv.height = h;
  cv.style.left = ox + 'px'; cv.style.top = oy + 'px';
  cv.style.width = w + 'px'; cv.style.height = h + 'px';
  new Chart(cv.getContext('2d'), {
    type: 'scatter',
    data: { datasets: p.sets },
    options: {
      responsive: false,
      animation: false,
      devicePixelRatio: 1,
      layout: { padding: { left: left - ox, top: top - oy, right: w - (right - ox), bottom: h - (bottom - oy) } },
      scales: {
        x: { type: 'linear', min: p.xr[0], max: p.xr[1], display: false },
        y: { type: 'linear', min: p.yr[0], max: p.yr[1], display: false }
      },
      plugins: {
        legend: { display: false },
        tooltip: { enabled: false },
        crossAxes: { xt: p.xt, xl: p.xl, yt: p.yt, tickFont: p.tickFont, titleFont: p.titleFont, labelDx: p.labelDx,
                     stressDx: p.stressDx, stressY: p.stressY, strainX: p.strainX, strainDy: p.strainDy,
                     legend: p.legend, ox: ox, oy: oy }
      }
    },
    plugins: [crossAxes]
  });
});
</script>
</body>
</html>
